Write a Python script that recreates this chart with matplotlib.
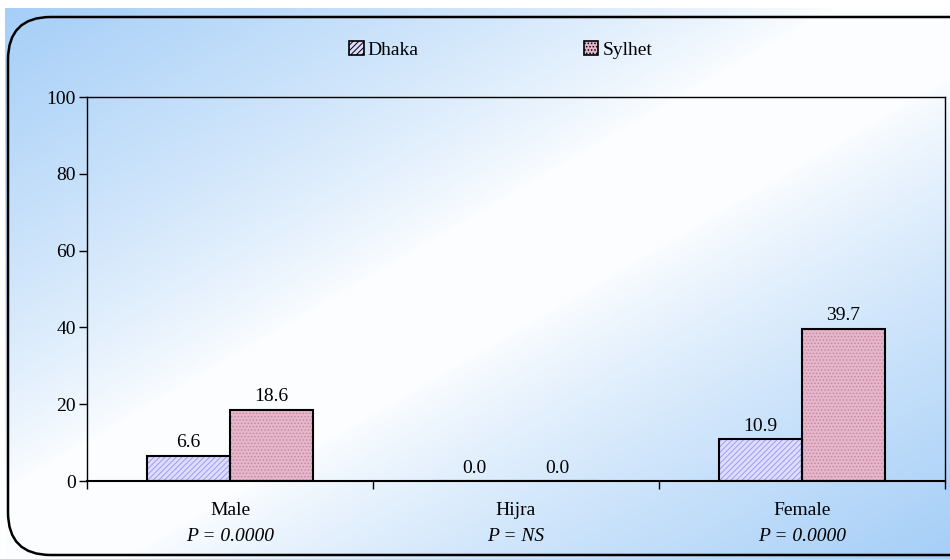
import numpy as np
import matplotlib
matplotlib.use("Agg")
import matplotlib.pyplot as plt
from matplotlib.patches import FancyBboxPatch, Rectangle

categories = ["Male", "Hijra", "Female"]
p_values = ["P = 0.0000", "P = NS", "P = 0.0000"]
dhaka = [6.6, 0.0, 10.9]
sylhet = [18.6, 0.0, 39.7]
series_names = ["Dhaka", "Sylhet"]
y_ticks = [0, 20, 40, 60, 80, 100]

plt.rcParams["font.family"] = ["Liberation Serif", "DejaVu Serif"]
plt.rcParams["hatch.linewidth"] = 0.7

W, H = 950, 559
FS = 14
fig = plt.figure(figsize=(W / 100, H / 100), dpi=100)

# background gradient: blue at top-left and bottom-right, white across the middle
bg = fig.add_axes([5 / W, 0, 1 - 5 / W, 1 - 8 / H], zorder=-10)
xx, yy = np.meshgrid(np.linspace(0, 1, 400), np.linspace(0, 1, 240))
t = (xx + yy) / 2
w = np.clip((np.abs(t - 0.5) - 0.06) / 0.44, 0, 1) ** 0.8
blue = np.array([0.65, 0.81, 0.97])
white = np.array([0.99, 0.995, 1.0])
img = white[None, None, :] * (1 - w[..., None]) + blue[None, None, :] * w[..., None]
bg.imshow(img, aspect="auto", extent=[0, 1, 1, 0], interpolation="bilinear")
bg.set_xlim(0, 1)
bg.set_ylim(1, 0)
bg.axis("off")

# rounded frame
frame = FancyBboxPatch((8 / W, 4 / H), (W + 40) / W, (H - 21) / H,
                       boxstyle="round,pad=0,rounding_size=0.045",
                       transform=fig.transFigure, fill=False,
                       edgecolor="black", linewidth=1.8,
                       mutation_aspect=W / H)
fig.patches.append(frame)

left, right, top, bottom = 87 / W, 945 / W, 97 / H, 481 / H
ax = fig.add_axes([left, 1 - bottom, right - left, bottom - top])
ax.patch.set_alpha(0)

x = np.arange(len(categories))
bw = 0.29
styles = [
    dict(face="#dedcff", hatch_col="#9c9cf2", hatch="//////"),
    dict(face="#e6b6ca", hatch_col="#c58aa4", hatch="....."),
]
offsets = [-bw / 2, bw / 2]
for vals, st, off in zip([dhaka, sylhet], styles, offsets):
    ax.bar(x + off, vals, bw, color=st["face"], edgecolor=st["hatch_col"],
           hatch=st["hatch"], linewidth=0, zorder=2)
    ax.bar(x + off, vals, bw, fill=False, edgecolor="black", linewidth=1.5, zorder=3)
    for xi, v in zip(x + off, vals):
        ax.annotate(f"{v:.1f}", (xi, v), xytext=(0, 3), textcoords="offset points",
                    ha="center", va="bottom", fontsize=FS)

ax.set_xlim(-0.5, len(categories) - 0.5)
ax.set_ylim(0, 100)
ax.set_yticks(y_ticks)
ax.set_yticklabels([str(v) for v in y_ticks], fontsize=FS)
ax.tick_params(axis="y", direction="out", length=6, width=1, pad=2)

ax.set_xticks(x)
ax.set_xticklabels(categories, fontsize=FS)
ax.tick_params(axis="x", which="major", length=0, pad=15)
ax.set_xticks(np.arange(len(categories) + 1) - 0.5, minor=True)
ax.tick_params(axis="x", which="minor", direction="out", length=6, width=1)

for xi, p in zip(x, p_values):
    ax.text(xi, -0.145, p, transform=ax.get_xaxis_transform(), ha="center",
            va="center", fontsize=FS, style="italic")

for sp in ax.spines.values():
    sp.set_linewidth(1)
ax.spines["bottom"].set_linewidth(1.5)

handles = [Rectangle((0, 0), 1, 1, facecolor=st["face"], edgecolor="black",
                     hatch=st["hatch"], linewidth=1.2) for st in styles]
fig.legend(handles, series_names, loc="center", bbox_to_anchor=(0.527, 1 - 50 / H),
           ncol=2, frameon=False, fontsize=FS, columnspacing=8.5,
           handlelength=0.75, handleheight=0.75, handletextpad=0.2)

fig.savefig("out.png", dpi=100)
